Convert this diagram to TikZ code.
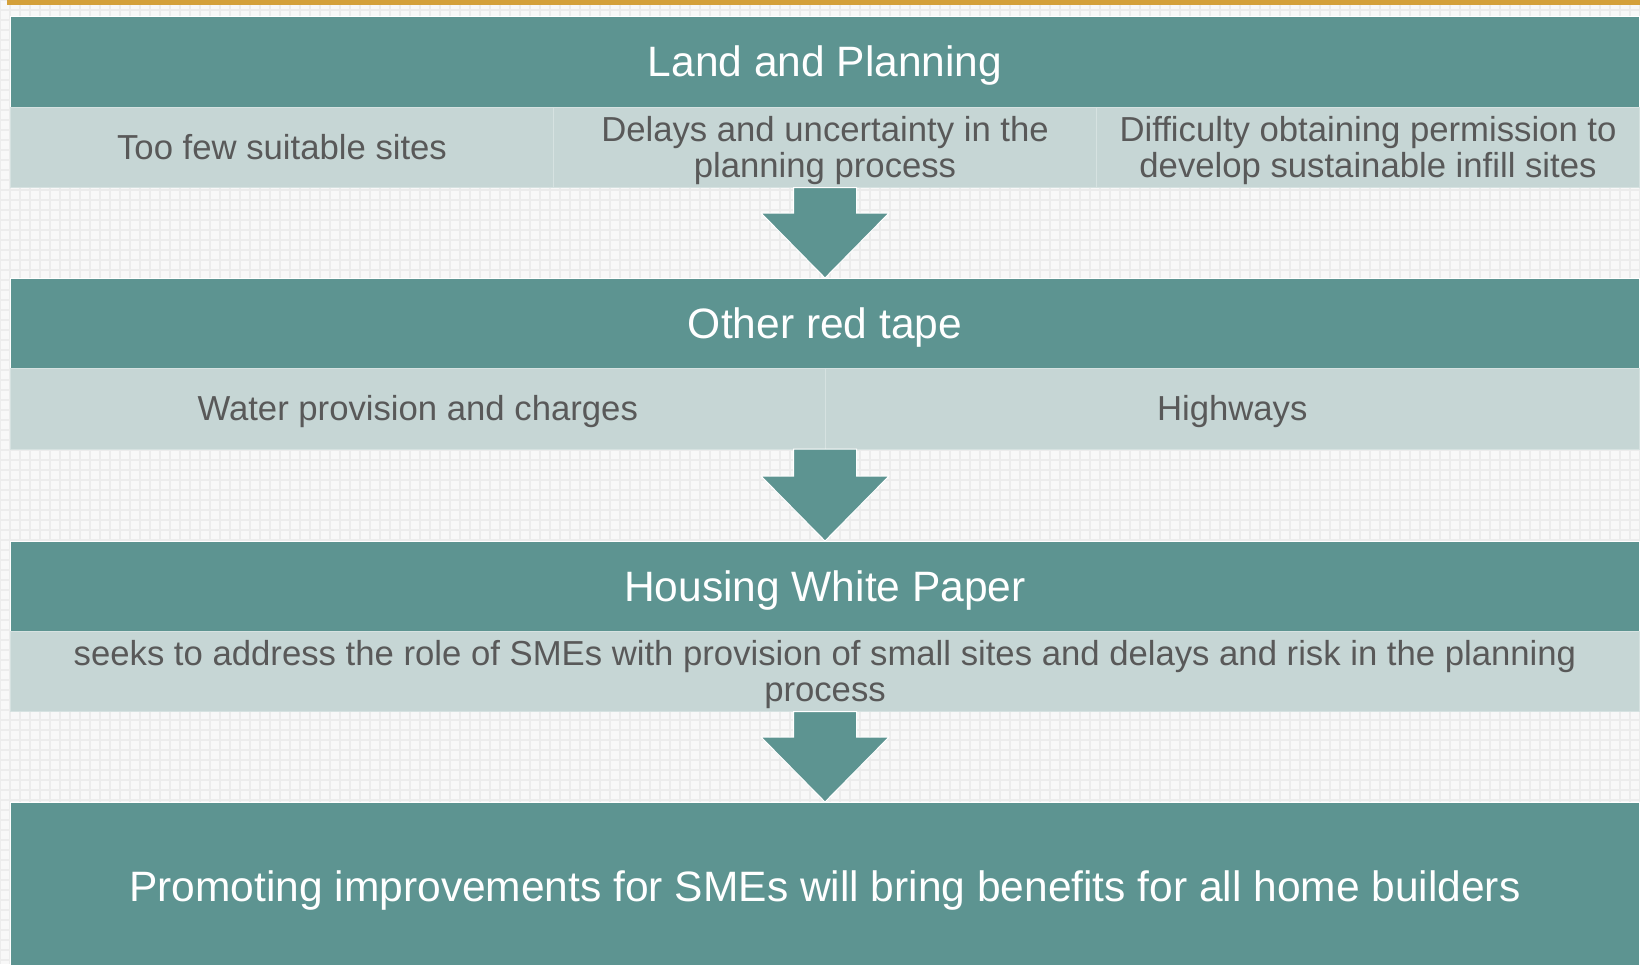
\documentclass[tikz,border=0pt]{standalone}
\usepackage{fontspec}
\setmainfont{Liberation Sans}
\usetikzlibrary{calc, positioning}
\definecolor{headteal}{RGB}{93,148,145}
\definecolor{celllight}{RGB}{198,214,213}
\definecolor{cellline}{RGB}{214,226,225}
\definecolor{celltext}{RGB}{89,89,89}
\definecolor{paperbg}{RGB}{248,248,248}
\definecolor{gridgray}{RGB}{236,236,236}
\definecolor{goldbar}{RGB}{212,160,58}
\tikzset{
    header/.style={draw=white, line width=1pt, fill=headteal, text=white,
        inner sep=0pt, outer sep=0pt, anchor=north west,
        minimum width=1629pt, minimum height=90.5pt,
        text height=38.5pt, text depth=9pt,
        font=\fontsize{42.5}{48}\selectfont},
    cell/.style={draw=cellline, line width=1pt, fill=celllight, text=celltext,
        inner sep=0pt, outer sep=0pt, anchor=north west, align=center,
        minimum height=80.5pt, text height=31.4pt, text depth=7.4pt,
        font=\fontsize{34.7}{36}\selectfont},
    twoline/.style={text height=67.4pt},
    downarrow/.style={fill=headteal, draw=white, line width=1pt, line join=miter}
}
\begin{document}
\begin{tikzpicture}[x=1pt, y=-1pt]
    \clip (0,0) rectangle (1640,964);
    \fill[paperbg] (0,0) rectangle (1640,964);
    \draw[gridgray, line width=1.5pt, step=10pt] (0,964) grid (1640,0);
    \fill[goldbar] (7,0) rectangle (1640,4.5);
    % stage 1
    \node[header] (h1) at (10.5,16.5) {Land and Planning};
    \node[cell, minimum width=543pt] (r1a) at (10.5,107) {Too few suitable sites};
    \node[cell, twoline, minimum width=543pt] (r1b) at (553.5,107) {Delays and uncertainty in the\\planning process};
    \node[cell, twoline, minimum width=543pt] (r1c) at (1096.5,107) {Difficulty obtaining permission to\\develop sustainable infill sites};
    % stage 2
    \node[header] (h2) at (10.5,278) {Other red tape};
    \node[cell, minimum width=814.5pt] (r2a) at (10.5,368.5) {Water provision and charges};
    \node[cell, minimum width=814.5pt] (r2b) at (825,368.5) {Highways};
    % stage 3
    \node[header] (h3) at (10.5,541) {Housing White Paper};
    \node[cell, twoline, minimum width=1629pt] (r3) at (10.5,631) {seeks to address the role of SMEs with provision of small sites and delays and risk in the planning\\process};
    % result
    \node[header, minimum height=170pt] (h4) at (10.5,802) {Promoting improvements for SMEs will bring benefits for all home builders};
    \foreach \a/\b in {r1b.south/h2, r2a.south east/h3, r3.south/h4}
        \filldraw[downarrow] (\b.north) -- ++(-64,-65) -- ++(32.5,0) |- (\a)
            -| ([shift={(31.5,-65)}]\b.north) -- ++(32.5,0) -- cycle;
\end{tikzpicture}
\end{document}
